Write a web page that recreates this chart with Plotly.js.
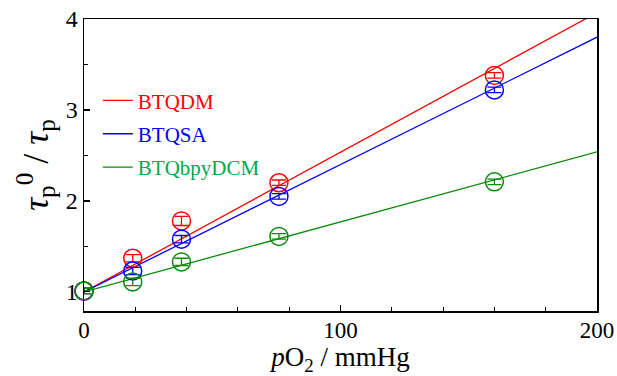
<!DOCTYPE html>
<html><head><meta charset="utf-8">
<script src="https://cdn.plot.ly/plotly-3.0.1.min.js"></script>
<style>html,body{margin:0;padding:0;background:#fff}#chart{width:617px;height:376px}</style>
</head><body><div id="chart"></div>
<script>
const pO2 = [0, 19, 38, 76, 160];
const btqdm = [1.01, 1.37, 1.78, 2.20, 3.38];
const btqsa = [1.01, 1.23, 1.58, 2.05, 3.22];
const btqbpy = [1.01, 1.11, 1.33, 1.61, 2.21];
const errDM = [0.03, 0.04, 0.05, 0.03, 0.03];
const errSA = [0.03, 0.04, 0.04, 0.03, 0.03];
const errBpy = [0.03, 0.04, 0.04, 0.03, 0.03];
const fitX = [0, 200];
const fitDM = [1.0, 4.07];
const fitSA = [1.0, 3.80];
const fitBpy = [1.0, 2.54];
const names = ['BTQDM', 'BTQSA', 'BTQbpyDCM'];
const lineColors = ['#ff0000', '#0000ff', '#0a8a0a'];
const textColors = ['#ff0000', '#0000ff', '#00a84f'];

const FONT = '"Liberation Serif", "Times New Roman", serif';
const ys = [btqdm, btqsa, btqbpy];
const errs = [errDM, errSA, errBpy];
const fits = [fitDM, fitSA, fitBpy];
const traces = [];
for (let i = 0; i < 3; i++) {
  traces.push({
    x: fitX, y: fits[i], mode: 'lines', type: 'scatter',
    line: {color: lineColors[i], width: 1.3},
    name: '<span style="color:' + textColors[i] + '">' + names[i] + '</span>',
    legendgroup: 'g' + i,
    showlegend: true
  });
}
for (let i = 0; i < 3; i++) {
  traces.push({
    x: pO2, y: ys[i], mode: 'markers', type: 'scatter', showlegend: false,
    marker: {symbol: 'circle-open', size: 18, color: lineColors[i], line: {width: 1.5, color: lineColors[i]}},
    error_y: {type: 'data', array: errs[i], visible: true, color: lineColors[i], thickness: 1.3, width: 7},
    cliponaxis: false
  });
}
const layout = {
  width: 617, height: 376,
  margin: {l: 84, r: 20, t: 19, b: 65},
  paper_bgcolor: '#fff', plot_bgcolor: '#fff',
  font: {family: FONT, color: '#000', size: 22},
  showlegend: true,
  legend: {x: 0.027, y: 0.79, xanchor: 'left', yanchor: 'top', bgcolor: 'rgba(0,0,0,0)',
    font: {size: 21, family: FONT}, tracegroupgap: 3, itemwidth: 30},
  xaxis: {
    range: [0, 200], showgrid: false, zeroline: false, showline: true, linecolor: '#000', linewidth: 1.5, mirror: true,
    ticks: 'inside', ticklen: 6, tickwidth: 1.2, tickcolor: '#000', tickvals: [0, 100, 200],
    minor: {ticks: 'inside', ticklen: 4, tickwidth: 1, tickcolor: '#000', dtick: 20, tick0: 0},
    tickfont: {size: 23, family: FONT}, ticklabelstandoff: -2,
    title: {text: '<i>p</i>O<sub>2</sub> / mmHg', font: {size: 27, family: FONT}}
  },
  yaxis: {
    range: [0.79, 4], showgrid: false, zeroline: false, showline: true, linecolor: '#000', linewidth: 1.5, mirror: true,
    ticks: 'inside', ticklen: 6, tickwidth: 1.2, tickcolor: '#000', tickvals: [1, 2, 3, 4],
    minor: {ticks: 'inside', ticklen: 4, tickwidth: 1, tickcolor: '#000', dtick: 0.5, tick0: 1},
    tickfont: {size: 24, family: FONT},
    title: {text: '<i>τ</i><sub>p</sub><sup>0</sup> / <i>τ</i><sub>p</sub>', font: {size: 36, family: FONT}, standoff: 6}
  }
};
Plotly.newPlot('chart', traces, layout, {displayModeBar: false, staticPlot: true});
</script></body></html>
